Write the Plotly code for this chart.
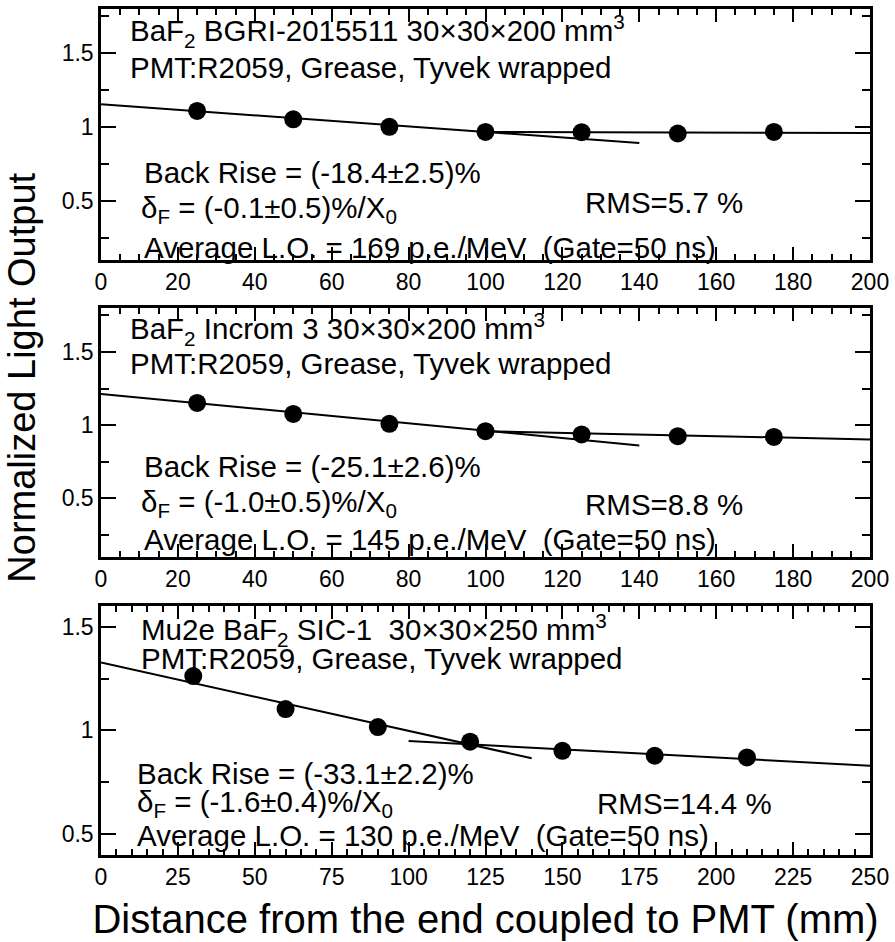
import plotly.graph_objects as go

# Measured light response along each crystal (distance from PMT end, mm)
pos_bgri = [25, 50, 75, 100, 125, 150, 175]
lo_bgri = [1.110, 1.053, 1.002, 0.968, 0.966, 0.957, 0.968]

pos_incrom = [25, 50, 75, 100, 125, 150, 175]
lo_incrom = [1.152, 1.077, 1.009, 0.959, 0.937, 0.925, 0.920]

pos_sic = [30, 60, 90, 120, 150, 180, 210]
lo_sic = [1.262, 1.103, 1.016, 0.946, 0.902, 0.878, 0.870]

# Linear fits: (intercept, slope per mm, x start, x end)
front_fit_bgri = [1.155, -0.00187, 0, 140]
back_fit_bgri = [0.975, -0.00007, 100, 200]
front_fit_incrom = [1.213, -0.002507, 0, 140]
back_fit_incrom = [1.015, -0.00056, 100, 200]
front_fit_sic = [1.327, -0.00329, 0, 140]
back_fit_sic = [1.028, -0.000793, 100, 250]

x_ranges = [[0, 200], [0, 200], [0, 250]]
y_ranges = [[0.1, 1.8], [0.1, 1.8], [0.4, 1.6]]
x_dticks = [20, 20, 25]

header_lines = [
    "BaF<sub>2</sub> BGRI-2015511 30×30×200 mm<sup>3</sup>",
    "BaF<sub>2</sub> Incrom 3 30×30×200 mm<sup>3</sup>",
    "Mu2e BaF<sub>2</sub> SIC-1  30×30×250 mm<sup>3</sup>",
]
setup_line = "PMT:R2059, Grease, Tyvek wrapped"
back_rise = ["Back Rise = (-18.4±2.5)%", "Back Rise = (-25.1±2.6)%", "Back Rise = (-33.1±2.2)%"]
delta_f = [
    "δ<sub>F</sub> = (-0.1±0.5)%/X<sub>0</sub>",
    "δ<sub>F</sub> = (-1.0±0.5)%/X<sub>0</sub>",
    "δ<sub>F</sub> = (-1.6±0.4)%/X<sub>0</sub>",
]
avg_lo = [
    "Average L.O. = 169 p.e./MeV  (Gate=50 ns)",
    "Average L.O. = 145 p.e./MeV  (Gate=50 ns)",
    "Average L.O. = 130 p.e./MeV  (Gate=50 ns)",
]
rms = ["RMS=5.7 %", "RMS=8.8 %", "RMS=14.4 %"]

FONT = "Liberation Sans, Arial, sans-serif"
BLACK = "black"

fig = go.Figure()


def fit_line(params):
    b, m, x0, x1 = params
    return [x0, x1], [b + m * x0, b + m * x1]


panels = [
    (pos_bgri, lo_bgri, front_fit_bgri, back_fit_bgri),
    (pos_incrom, lo_incrom, front_fit_incrom, back_fit_incrom),
    (pos_sic, lo_sic, front_fit_sic, back_fit_sic),
]

for i, (xs, ys, ff, bf) in enumerate(panels):
    ax = "" if i == 0 else str(i + 1)
    for fit in (ff, bf):
        lx, ly = fit_line(fit)
        fig.add_trace(go.Scatter(x=lx, y=ly, mode="lines", xaxis="x" + ax, yaxis="y" + ax,
                                 line=dict(color=BLACK, width=2), showlegend=False,
                                 hoverinfo="skip"))
    fig.add_trace(go.Scatter(x=xs, y=ys, mode="markers", xaxis="x" + ax, yaxis="y" + ax,
                             marker=dict(color=BLACK, size=18), showlegend=False))

# vertical domains (bottom panel first in paper coords)
domains = [[0.7032, 1.0], [0.3522, 0.6466], [0.0, 0.2945]]

axis_common = dict(
    showline=True, linecolor=BLACK, linewidth=2.5, mirror="allticks",
    ticks="inside", tickcolor=BLACK, tickwidth=2, showgrid=False, zeroline=False,
    tickfont=dict(family=FONT, size=23, color=BLACK),
)

layout = dict(
    width=895, height=942,
    margin=dict(l=101, r=25, t=6, b=87),
    paper_bgcolor="white", plot_bgcolor="white",
    font=dict(family=FONT, color=BLACK),
    showlegend=False,
)

for i in range(3):
    ax = "" if i == 0 else str(i + 1)
    layout["xaxis" + ax] = dict(
        axis_common, range=x_ranges[i], dtick=x_dticks[i], tick0=0, ticklen=13,
        anchor="y" + ax,
        minor=dict(dtick=5, ticklen=6, tickwidth=1.5, tickcolor=BLACK, ticks="inside"),
    )
    layout["yaxis" + ax] = dict(
        axis_common, range=y_ranges[i], dtick=0.5, tick0=0, ticklen=15,
        domain=domains[i], anchor="x" + ax,
        minor=dict(dtick=0.25, ticklen=8, tickwidth=1.5, tickcolor=BLACK, ticks="inside"),
    )

layout["xaxis3"]["title"] = dict(text="Distance from the end coupled to PMT (mm)",
                                 font=dict(family=FONT, size=40, color=BLACK), standoff=16)

fig.update_layout(**layout)

# text block positions inside each panel (fractions of the panel domain)
text_pos = [
    dict(head=(0.035, 0.913), setup=(0.035, 0.766), br=(0.053, 0.349), df=(0.05, 0.202),
         avg=(0.053, 0.052), rms=(0.627, 0.230)),
    dict(head=(0.035, 0.916), setup=(0.035, 0.776), br=(0.053, 0.364), df=(0.05, 0.216),
         avg=(0.053, 0.072), rms=(0.627, 0.212)),
    dict(head=(0.05, 0.905), setup=(0.05, 0.788), br=(0.044, 0.328), df=(0.044, 0.208),
         avg=(0.044, 0.08), rms=(0.642, 0.208)),
]

for i in range(3):
    ax = "" if i == 0 else str(i + 1)
    p = text_pos[i]
    entries = [
        (header_lines[i], p["head"]),
        (setup_line, p["setup"]),
        (back_rise[i], p["br"]),
        (delta_f[i], p["df"]),
        (avg_lo[i], p["avg"]),
        (rms[i], p["rms"]),
    ]
    for txt, (xd, yd) in entries:
        fig.add_annotation(text=txt, x=xd, y=yd, xref="x" + ax + " domain",
                           yref="y" + ax + " domain", xanchor="left", yanchor="middle",
                           showarrow=False, font=dict(family=FONT, size=29.5, color=BLACK))

# shared y title, positioned in pixels relative to the plotting area
fig.add_annotation(text="Normalized Light Output", textangle=-90,
                   x=(22 - 101) / (895 - 101 - 25), xanchor="center",
                   y=(942 - 87 - 376) / (942 - 6 - 87), yanchor="middle",
                   xref="paper", yref="paper", showarrow=False,
                   font=dict(family=FONT, size=38, color=BLACK))

fig.write_html("out.html")
